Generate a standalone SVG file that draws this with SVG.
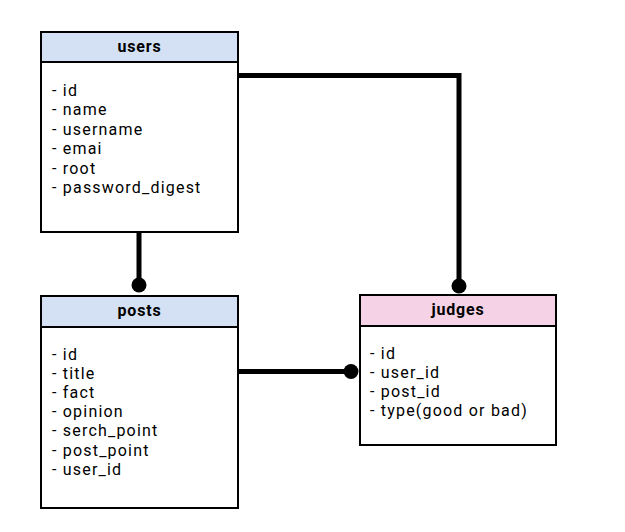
<svg xmlns="http://www.w3.org/2000/svg" width="625" height="532" viewBox="0 0 625 532">
<style>
.box{fill:#fff;stroke:#000;stroke-width:2}
.blue{fill:#d4e1f5;stroke:#000;stroke-width:2}
.pink{fill:#f5d2e5;stroke:#000;stroke-width:2}
.t{font-family:Roboto,"Noto Sans",sans-serif;font-size:16px;letter-spacing:1.2px;fill:#000}
.h{font-family:Roboto,"Noto Sans",sans-serif;font-size:16px;letter-spacing:0.8px;font-weight:bold;fill:#000;text-anchor:middle}
.c{fill:none;stroke:#000;stroke-width:5}
</style>
<rect width="625" height="532" fill="#fff"/>
<g id="connectors">
<path class="c" d="M139 232V285"/>
<circle cx="139" cy="285" r="7.5"/>
<path class="c" d="M238 75.5H459V287"/>
<circle cx="459" cy="286" r="7.5"/>
<path class="c" d="M238 371.5H351"/>
<circle cx="351" cy="371.5" r="7.5"/>
</g>
<g id="users">
<rect class="box" x="41" y="32" width="197" height="200"/>
<rect class="blue" x="41" y="32" width="197" height="30"/>
<text class="h" x="139.5" y="52">users</text>
<text class="t" x="52" y="96">- id</text>
<text class="t" x="52" y="115.4">- name</text>
<text class="t" x="52" y="134.8">- username</text>
<text class="t" x="52" y="154.2">- emai</text>
<text class="t" x="52" y="173.6">- root</text>
<text class="t" x="52" y="193">- password_digest</text>
</g>
<g id="posts">
<rect class="box" x="41" y="296" width="197" height="212"/>
<rect class="blue" x="41" y="296" width="197" height="31"/>
<text class="h" x="139.5" y="316">posts</text>
<text class="t" x="52" y="359.5">- id</text>
<text class="t" x="52" y="378.7">- title</text>
<text class="t" x="52" y="397.9">- fact</text>
<text class="t" x="52" y="417.1">- opinion</text>
<text class="t" x="52" y="436.3">- serch_point</text>
<text class="t" x="52" y="455.5">- post_point</text>
<text class="t" x="52" y="474.7">- user_id</text>
</g>
<g id="judges">
<rect class="box" x="360" y="295" width="196" height="150"/>
<rect class="pink" x="360" y="295" width="196" height="31"/>
<text class="h" x="458" y="315">judges</text>
<text class="t" x="370" y="358.5">- id</text>
<text class="t" x="370" y="377.5">- user_id</text>
<text class="t" x="370" y="396.5">- post_id</text>
<text class="t" x="370" y="415.5">- type(good or bad)</text>
</g>
</svg>
